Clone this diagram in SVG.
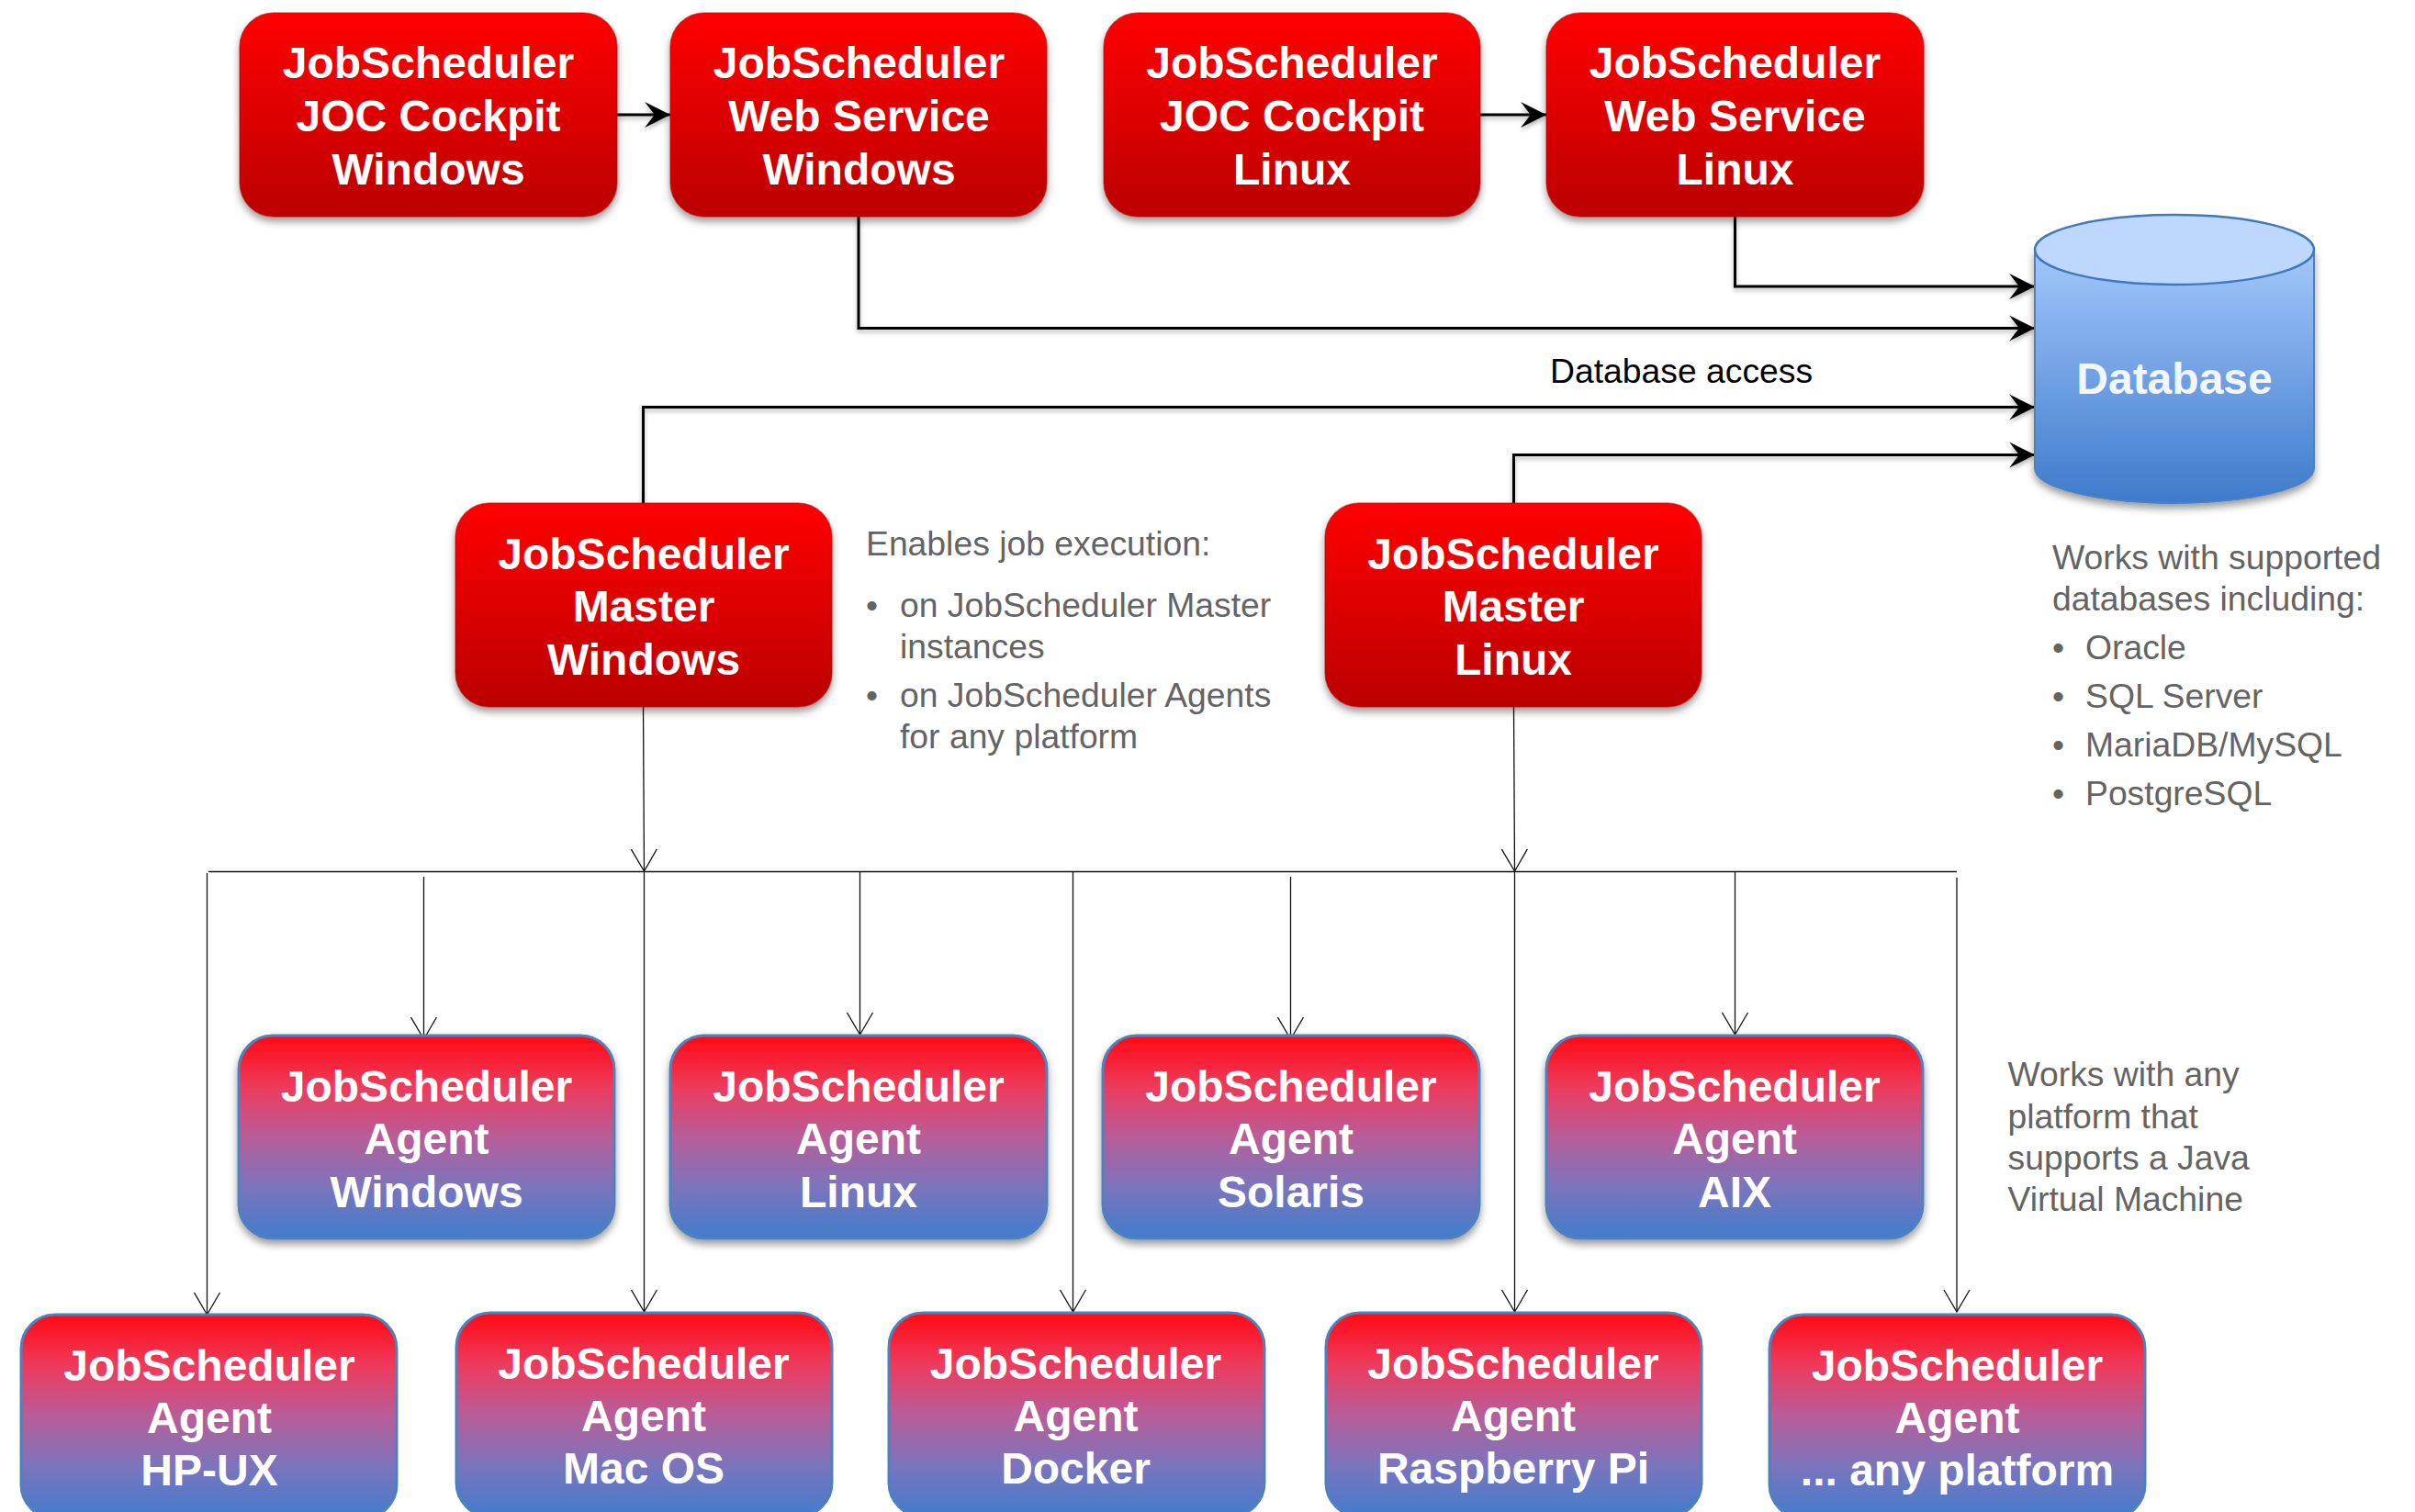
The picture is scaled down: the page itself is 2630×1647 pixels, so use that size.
<svg xmlns="http://www.w3.org/2000/svg" width="2630" height="1647" viewBox="0 0 2630 1647">
<style>
.box{stroke-width:1.5}
.red{fill:url(#redG);stroke:#c00000;stroke-opacity:.5}
.agent{fill:url(#agentG);stroke:#4f81bd;stroke-width:3}
.n{font:bold 48px "Liberation Sans",Arial,sans-serif;fill:#fff;text-anchor:middle}
.g{font:37.3px "Liberation Sans",Arial,sans-serif;fill:#646464}
.b{font:37.3px "Liberation Sans",Arial,sans-serif;fill:#000}
.thick{fill:none;stroke:#000;stroke-width:3;marker-end:url(#solid)}
.thin{fill:none;stroke:#111;stroke-width:1.3;marker-end:url(#open)}
.plain{fill:none;stroke:#111;stroke-width:1.5}
</style>
<defs>
<linearGradient id="redG" x1="0" y1="0" x2="0" y2="1"><stop offset="0" stop-color="#ff0000"/><stop offset="1" stop-color="#bb0000"/></linearGradient>
<linearGradient id="agentG" x1="0" y1="0" x2="0" y2="1"><stop offset="0" stop-color="#ff0a14"/><stop offset=".25" stop-color="#ee3a5c"/><stop offset=".5" stop-color="#b75e98"/><stop offset=".75" stop-color="#7a75bd"/><stop offset="1" stop-color="#417ccb"/></linearGradient>
<linearGradient id="dbG" x1="0" y1="0" x2="0" y2="1"><stop offset="0" stop-color="#a3c7fc"/><stop offset="1" stop-color="#3e7bcb"/></linearGradient>
<filter id="sh" x="-10%" y="-10%" width="120%" height="125%"><feDropShadow dx="0" dy="5" stdDeviation="4" flood-color="#000" flood-opacity=".4"/></filter>
<filter id="lsh" x="0" y="0" width="2630" height="1647" filterUnits="userSpaceOnUse"><feDropShadow dx="0" dy="3" stdDeviation="2.5" flood-color="#000" flood-opacity=".3"/></filter>
<marker id="solid" markerUnits="userSpaceOnUse" markerWidth="30" markerHeight="30" viewBox="-27 -14 28 28" refX="0" refY="0" orient="auto"><path d="M0 0L-26-13-16 0-26 13Z" fill="#000"/></marker>
<marker id="open" markerUnits="userSpaceOnUse" markerWidth="30" markerHeight="30" viewBox="-27 -15 28 30" refX="0" refY="0" orient="auto"><path d="M-24-14L0 0-24 14" fill="none" stroke="#111" stroke-width="1.3"/></marker>
</defs>

<g id="connectors">
<g filter="url(#lsh)">
<path class="thick" d="M672 125H730"/>
<path class="thick" d="M1612 125H1684"/>
<path class="thick" d="M1889.5 236V312H2216"/>
<path class="thick" d="M935 236V357.500H2216"/>
<path class="thick" d="M700.500 548V443.500H2216"/>
<path class="thick" d="M1648.500 548V495.500H2216"/>
</g>
<path class="thin" d="M700.500 769L701.500 949"/>
<path class="thin" d="M1648.500 770L1649.500 949"/>
<path class="plain" d="M227 949.500H2131"/>
<path class="thin" d="M225.500 951V1432"/>
<path class="thin" d="M461.500 955V1132"/>
<path class="thin" d="M701.500 949V1429"/>
<path class="thin" d="M936.500 949V1127"/>
<path class="thin" d="M1168.500 949V1429"/>
<path class="thin" d="M1405.500 955V1132"/>
<path class="thin" d="M1649.500 949V1429"/>
<path class="thin" d="M1889.500 950V1127"/>
<path class="thin" d="M2131 956V1429"/>
</g>

<g id="joc-win"><rect class="box red" x="261" y="14" width="411" height="222" rx="37" filter="url(#sh)"/><text class="n" x="466.500" y="85">JobScheduler</text><text class="n" x="466.500" y="142.500">JOC Cockpit</text><text class="n" x="466.500" y="201">Windows</text></g>
<g id="web-win"><rect class="box red" x="730" y="14" width="410" height="222" rx="37" filter="url(#sh)"/><text class="n" x="935.500" y="85">JobScheduler</text><text class="n" x="935.500" y="142.500">Web Service</text><text class="n" x="935.500" y="201">Windows</text></g>
<g id="joc-linux"><rect class="box red" x="1202" y="14" width="410" height="222" rx="37" filter="url(#sh)"/><text class="n" x="1407" y="85">JobScheduler</text><text class="n" x="1407" y="142.500">JOC Cockpit</text><text class="n" x="1407" y="201">Linux</text></g>
<g id="web-linux"><rect class="box red" x="1684" y="14" width="411" height="222" rx="37" filter="url(#sh)"/><text class="n" x="1889.500" y="85">JobScheduler</text><text class="n" x="1889.500" y="142.500">Web Service</text><text class="n" x="1889.500" y="201">Linux</text></g>

<g id="database">
<path d="M2216 272V510C2216 531 2284 548 2368 548S2520 531 2520 510V272Z" fill="url(#dbG)" stroke="#4f81bd" stroke-width="2" filter="url(#sh)"/>
<ellipse cx="2368" cy="272" rx="152" ry="38" fill="#bdd7ff" stroke="#4079bd" stroke-width="2.500"/>
<text class="n" x="2368" y="429" style="fill:#f2f7ff">Database</text>
</g>

<g id="master-win"><rect class="box red" x="496" y="548" width="410" height="222" rx="37" filter="url(#sh)"/><text class="n" x="701" y="619.500">JobScheduler</text><text class="n" x="701" y="677">Master</text><text class="n" x="701" y="735">Windows</text></g>
<g id="master-linux"><rect class="box red" x="1443" y="548" width="410" height="222" rx="37" filter="url(#sh)"/><text class="n" x="1648" y="619.500">JobScheduler</text><text class="n" x="1648" y="677">Master</text><text class="n" x="1648" y="735">Linux</text></g>

<g id="agent-windows"><rect class="agent" x="260" y="1128" width="409" height="221" rx="37" filter="url(#sh)"/><text class="n" x="464.500" y="1199.500">JobScheduler</text><text class="n" x="464.500" y="1256.500">Agent</text><text class="n" x="464.500" y="1314.500">Windows</text></g>
<g id="agent-linux"><rect class="agent" x="730" y="1128" width="410" height="221" rx="37" filter="url(#sh)"/><text class="n" x="935" y="1199.500">JobScheduler</text><text class="n" x="935" y="1256.500">Agent</text><text class="n" x="935" y="1314.500">Linux</text></g>
<g id="agent-solaris"><rect class="agent" x="1201" y="1128" width="410" height="221" rx="37" filter="url(#sh)"/><text class="n" x="1406" y="1199.500">JobScheduler</text><text class="n" x="1406" y="1256.500">Agent</text><text class="n" x="1406" y="1314.500">Solaris</text></g>
<g id="agent-aix"><rect class="agent" x="1684" y="1128" width="410" height="221" rx="37" filter="url(#sh)"/><text class="n" x="1889" y="1199.500">JobScheduler</text><text class="n" x="1889" y="1256.500">Agent</text><text class="n" x="1889" y="1314.500">AIX</text></g>

<g id="agent-hpux"><rect class="agent" x="23" y="1432" width="409" height="222" rx="37"/><text class="n" x="228" y="1503.500">JobScheduler</text><text class="n" x="228" y="1560.500">Agent</text><text class="n" x="228" y="1618">HP-UX</text></g>
<g id="agent-macos"><rect class="agent" x="497" y="1430" width="409" height="222" rx="37"/><text class="n" x="701" y="1501.500">JobScheduler</text><text class="n" x="701" y="1558.500">Agent</text><text class="n" x="701" y="1616">Mac OS</text></g>
<g id="agent-docker"><rect class="agent" x="968" y="1430" width="409" height="222" rx="37"/><text class="n" x="1171.500" y="1501.500">JobScheduler</text><text class="n" x="1178" y="1558.500" dx="-6.500">Agent</text><text class="n" x="1171.500" y="1616">Docker</text></g>
<g id="agent-raspberry"><rect class="agent" x="1444" y="1430" width="409" height="222" rx="37"/><text class="n" x="1648" y="1501.500">JobScheduler</text><text class="n" x="1648" y="1558.500">Agent</text><text class="n" x="1648" y="1616">Raspberry Pi</text></g>
<g id="agent-any"><rect class="agent" x="1927" y="1432" width="409" height="222" rx="37"/><text class="n" x="2131.500" y="1503.500">JobScheduler</text><text class="n" x="2131.500" y="1560.500">Agent</text><text class="n" x="2131.500" y="1618">... any platform</text></g>

<g id="notes">
<text class="b" x="1696" y="417" dx="-8">Database access</text>
<text class="g" x="948" y="604.500" dx="-5">Enables job execution:</text>
<text class="g" x="943" y="671.500">•</text><text class="g" x="980" y="671.500">on JobScheduler Master</text>
<text class="g" x="980" y="716.500">instances</text>
<text class="g" x="943" y="769.500">•</text><text class="g" x="980" y="769.500">on JobScheduler Agents</text>
<text class="g" x="980" y="814.500">for any platform</text>
<text class="g" x="2235" y="619.500">Works with supported</text>
<text class="g" x="2235" y="664.500">databases including:</text>
<text class="g" x="2235" y="717.500">•</text><text class="g" x="2271" y="717.500">Oracle</text>
<text class="g" x="2235" y="770.500">•</text><text class="g" x="2271" y="770.500">SQL Server</text>
<text class="g" x="2235" y="823.500">•</text><text class="g" x="2271" y="823.500">MariaDB/MySQL</text>
<text class="g" x="2235" y="876.500">•</text><text class="g" x="2271" y="876.500">PostgreSQL</text>
<text class="g" x="2186.500" y="1183">Works with any</text>
<text class="g" x="2186.500" y="1228.500">platform that</text>
<text class="g" x="2186.500" y="1274">supports a Java</text>
<text class="g" x="2186.500" y="1319">Virtual Machine</text>
</g>
</svg>
